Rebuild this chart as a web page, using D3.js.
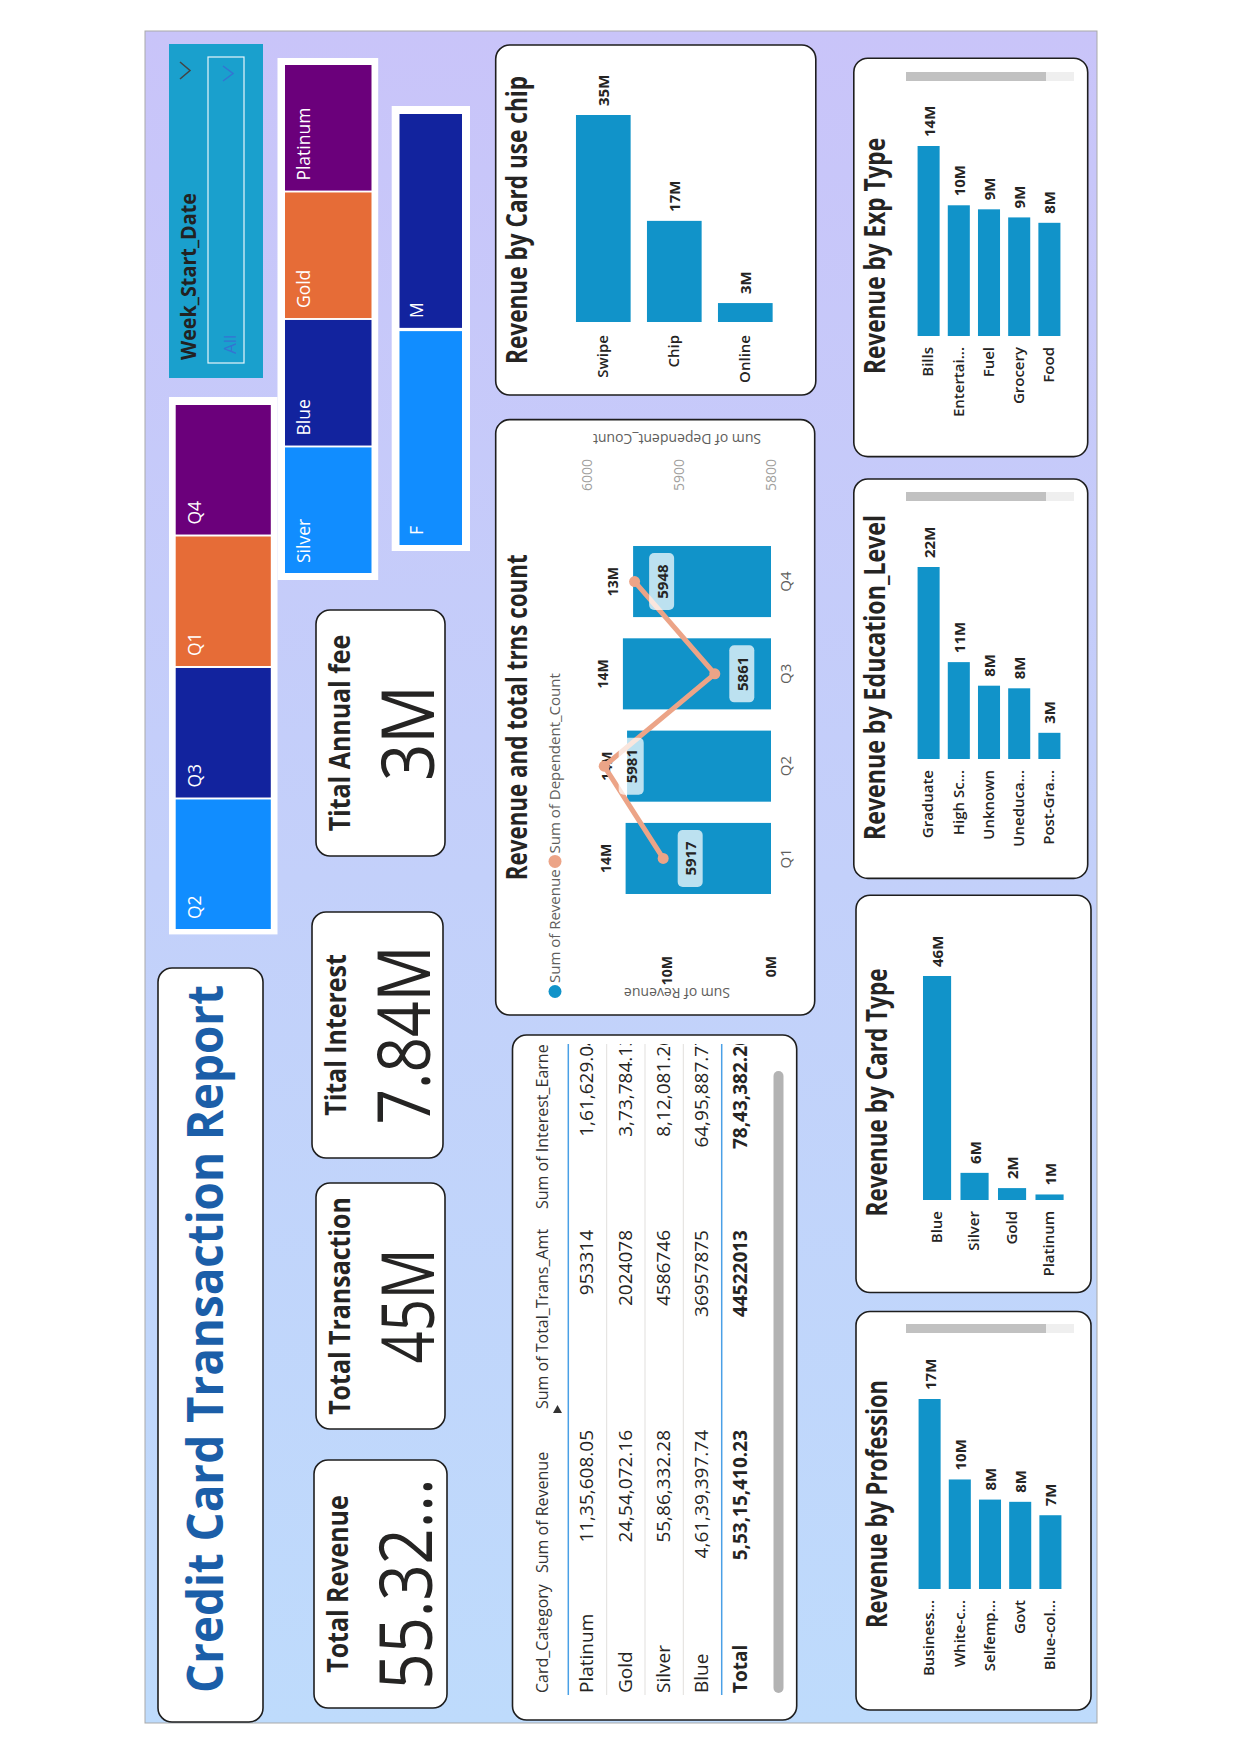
<!DOCTYPE html>
<html>
<head>
<meta charset="utf-8">
<script src="https://cdn.jsdelivr.net/npm/d3@7"></script>
<style>
  html, body { margin: 0; padding: 0; background: #ffffff; }
  svg { display: block; }
</style>
</head>
<body>
<script>
// ---------------- DATA ----------------
const quarters = ["Q1", "Q2", "Q3", "Q4"];
const quarterRevenue = [13.98, 13.84, 14.24, 13.26];          // millions
const quarterDependents = [5917, 5981, 5861, 5948];
const revAxisTicks = [0, 10];
const depAxisTicks = [5800, 5900, 6000];

const chipCategories = ["Swipe", "Chip", "Online"];
const chipRevenue = [35.0, 17.1, 3.2];

const expCategories = ["Bills", "Entertai...", "Fuel", "Grocery", "Food"];
const expRevenue = [14.1, 9.7, 9.4, 8.8, 8.4];

const eduCategories = ["Graduate", "High Sc...", "Unknown", "Uneduca...", "Post-Gra..."];
const eduRevenue = [22.0, 11.1, 8.4, 8.1, 3.0];

const cardTypeCategories = ["Blue", "Silver", "Gold", "Platinum"];
const cardTypeRevenue = [46.14, 5.59, 2.45, 1.14];

const profCategories = ["Business...", "White-c...", "Selfemp...", "Govt", "Blue-col..."];
const profRevenue = [17.0, 9.8, 8.0, 7.8, 6.6];

const tableHeaders = ["Card_Category", "Sum of Revenue", "Sum of Total_Trans_Amt", "Sum of Interest_Earned"];
const tableCategories = ["Platinum", "Gold", "Silver", "Blue"];
const tableRevenue = [1135608.05, 2454072.16, 5586332.28, 46139397.74];
const tableTransAmt = [953314, 2024078, 4586746, 36957875];
const tableInterest = [161629.04, 373784.13, 812081.26, 6495887.77];

const kpiTitles = ["Total Revenue", "Total Transaction", "Tital Interest", "Tital Annual fee"];
const kpiValues = ["55.32...", "45M", "7.84M", "3M"];

const quarterTiles = ["Q2", "Q3", "Q1", "Q4"];
const cardTiles = ["Silver", "Blue", "Gold", "Platinum"];
const genderTiles = ["F", "M"];
const tileColors = ["#118DFF", "#12239E", "#E66C37", "#6B007B"];

// ---------------- STYLE ----------------
const FONT = "'Open Sans', 'Noto Sans', sans-serif";
const BAR = "#1193c9";
const LINE = "#eca487";
const TXT = "#252423";
const GRAY = "#605e5c";

// ---------------- HELPERS ----------------
function inr(n, dec) {
  const s = n.toFixed(dec);
  let [ip, fp] = s.split(".");
  const last3 = ip.slice(-3);
  let rest = ip.slice(0, -3);
  if (rest) rest = rest.replace(/\B(?=(\d{2})+(?!\d))/g, ",") + ",";
  return rest + last3 + (fp ? "." + fp : "");
}

const svg = d3.select("body").append("svg").attr("width", 1241).attr("height", 1755);
svg.append("rect").attr("width", 1241).attr("height", 1755).attr("fill", "#ffffff");
const defs = svg.append("defs");
const grad = defs.append("linearGradient").attr("id", "bg").attr("x1", 0).attr("x2", 1).attr("y1", 0).attr("y2", 0);
grad.append("stop").attr("offset", 0).attr("stop-color", "#bedbfc");
grad.append("stop").attr("offset", 0.5).attr("stop-color", "#c3d0fa");
grad.append("stop").attr("offset", 1).attr("stop-color", "#c9c4f9");
defs.append("clipPath").attr("id", "tclip").append("rect")
  .attr("x", 4).attr("y", 368).attr("width", 675).attr("height", 283);

// landscape dashboard, rotated to portrait page
const g = svg.append("g").attr("transform", "translate(145,1723) rotate(-90)").style("font-family", FONT);
g.append("rect").attr("width", 1692).attr("height", 952).attr("fill", "url(#bg)")
  .attr("stroke", "#a9a9a9").attr("stroke-width", 1);

function card(u1, u2, v1, v2) {
  return g.append("rect").attr("x", u1).attr("y", v1).attr("width", u2 - u1).attr("height", v2 - v1)
    .attr("rx", 14).attr("fill", "#ffffff").attr("stroke", "#1e1e1e").attr("stroke-width", 1.6);
}
function text(p, x, y, s, size, o = {}) {
  const t = p.append("text").attr("x", x).attr("y", y).text(s)
    .attr("font-size", size).attr("fill", o.fill || TXT)
    .attr("font-weight", o.weight || 400).attr("text-anchor", o.anchor || "start")
    .style("font-family", FONT);
  if (o.baseline) t.attr("dominant-baseline", o.baseline);
  if (o.len) t.attr("textLength", o.len).attr("lengthAdjust", "spacingAndGlyphs");
  if (o.squeeze) {
    const n = t.node().getComputedTextLength();
    t.attr("textLength", n * o.squeeze).attr("lengthAdjust", "spacingAndGlyphs");
  }
  return t;
}
function chevron(u1, u2, vTop, vBot, color) {
  g.append("path").attr("d", `M${u1},${vTop} L${(u1 + u2) / 2},${vBot} L${u2},${vTop}`)
    .attr("fill", "none").attr("stroke", color).attr("stroke-width", 1.5);
}

// ---------------- TITLE ----------------
card(1, 755, 13, 118);
text(g, 30, 78, "Credit Card Transaction Report", 50, { weight: 700, fill: "#1b5ea8", len: 708 });

// ---------------- KPI CARDS ----------------
const kpiBoxes = [[15, 263, 169, 302], [294, 540, 171, 300], [565, 811, 167, 298], [867, 1113, 171, 300]];
const kpiValueLen = [211, 115, 179, 96];
kpiTitles.forEach((t, i) => {
  const [u1, u2, v1, v2] = kpiBoxes[i];
  card(u1, u2, v1, v2);
  const cu = (u1 + u2) / 2;
  text(g, cu, v1 + 34, t, 29, { weight: 700, anchor: "middle", squeeze: 0.86 });
  text(g, cu, v1 + 118, kpiValues[i], 73, { anchor: "middle", len: kpiValueLen[i] });
});

// ---------------- WEEK SLICER ----------------
g.append("rect").attr("x", 1345).attr("y", 24).attr("width", 334).attr("height", 94).attr("fill", "#1aa0cd");
text(g, 1363, 51, "Week_Start_Date", 22, { weight: 700, fill: "#222222", len: 167 });
g.append("rect").attr("x", 1360).attr("y", 63).attr("width", 306).attr("height", 36)
  .attr("fill", "none").attr("stroke", "#e8f6fb").attr("stroke-width", 1.2);
text(g, 1369, 91, "All", 17, { fill: "#3474d2" });
chevron(1642, 1657, 78, 88, "#3474d2");
chevron(1644, 1661, 35, 45, "#444444");

// ---------------- TILE SLICERS ----------------
function tiles(frame, inner, names, labelDv) {
  g.append("rect").attr("x", frame[0]).attr("y", frame[2]).attr("width", frame[1] - frame[0])
    .attr("height", frame[3] - frame[2]).attr("fill", "#ffffff");
  const b = d3.scaleBand().domain(names).range([inner[0], inner[1]]).paddingInner(0.015);
  const tg = g.append("g");
  tg.selectAll("rect").data(names).join("rect")
    .attr("x", d => b(d)).attr("y", inner[2]).attr("width", b.bandwidth()).attr("height", inner[3] - inner[2])
    .attr("fill", (d, i) => tileColors[i]);
  names.forEach(n => text(tg, b(n) + 10, inner[2] + labelDv, n, 17.5, { fill: "#ffffff" }));
}
tiles([788.6, 1326, 24, 132.5], [794, 1318, 30.7, 125.8], quarterTiles, 25);
tiles([1143, 1665, 132.5, 233.2], [1150, 1658, 140, 226.5], cardTiles, 25);
tiles([1172, 1617, 246.7, 325], [1178, 1609, 254.5, 317], genderTiles, 23.5);

// ---------------- HORIZONTAL BAR CHARTS ----------------
function hbar(o) {
  card(o.box[0], o.box[1], o.box[2], o.box[3]);
  text(g, o.tu, o.box[2] + 31, o.title, 28, { weight: 700, anchor: "middle", len: o.tlen });
  const x = d3.scaleLinear().domain([0, d3.max(o.vals)]).range([o.base, o.base + o.maxLen]);
  const y = d3.scaleBand().domain(o.cats).range([o.v0, o.v1]).paddingInner(o.pi).paddingOuter(o.pi / 2);
  const cg = g.append("g");
  cg.selectAll("rect").data(o.cats).join("rect")
    .attr("x", o.base).attr("y", d => y(d))
    .attr("width", (d, i) => x(o.vals[i]) - o.base).attr("height", y.bandwidth())
    .attr("fill", BAR);
  const ax = cg.append("g").attr("transform", `translate(${o.base},0)`)
    .call(d3.axisLeft(y).tickSize(0).tickPadding(o.base - o.labelEnd));
  ax.select(".domain").remove();
  ax.attr("font-family", FONT).attr("font-size", 15);
  ax.selectAll("text").attr("font-weight", 600).attr("fill", TXT).style("font-family", FONT);
  cg.selectAll(".dl").data(o.cats).join("text").attr("class", "dl")
    .attr("x", (d, i) => x(o.vals[i]) + 9).attr("y", d => y(d) + y.bandwidth() / 2)
    .attr("dominant-baseline", "central").attr("font-size", 15).attr("font-weight", 700)
    .attr("fill", TXT).style("font-family", FONT)
    .text((d, i) => Math.round(o.vals[i]) + "M");
  if (o.scroll) {
    g.append("rect").attr("x", o.scroll).attr("y", 761).attr("width", 9).attr("height", 168).attr("fill", "#efefef");
    g.append("rect").attr("x", o.scroll).attr("y", 761).attr("width", 9).attr("height", 140).attr("fill", "#c1c1c1");
  }
}
hbar({ box: [1328, 1678, 350.7, 670.8], title: "Revenue by Card use chip", tu: 1503, tlen: 288,
  cats: chipCategories, vals: chipRevenue, base: 1401, maxLen: 207, v0: 422.8, v1: 635.8, pi: 0.23, labelEnd: 1388 });
hbar({ box: [1266.4, 1664.8, 708.8, 942.7], title: "Revenue by Exp Type", tu: 1467, tlen: 236,
  cats: expCategories, vals: expRevenue, base: 1387, maxLen: 190, v0: 768.5, v1: 919.5, pi: 0.27, labelEnd: 1376, scroll: 1642 });
hbar({ box: [844.6, 1244, 708.8, 942.7], title: "Revenue by Education_Level", tu: 1045.5, tlen: 325,
  cats: eduCategories, vals: eduRevenue, base: 964, maxLen: 192, v0: 768.5, v1: 919.5, pi: 0.27, labelEnd: 953, scroll: 1222 });
hbar({ box: [430.5, 827.8, 711, 946], title: "Revenue by Card Type", tu: 630.5, tlen: 248,
  cats: cardTypeCategories, vals: cardTypeRevenue, base: 523, maxLen: 224, v0: 773.3, v1: 923.3, pi: 0.25, labelEnd: 512 });
hbar({ box: [13, 411.5, 711, 946], title: "Revenue by Profession", tu: 219, tlen: 248,
  cats: profCategories, vals: profRevenue, base: 134, maxLen: 190, v0: 769.5, v1: 920.5, pi: 0.27, labelEnd: 123, scroll: 390 });

// ---------------- COMBO CHART ----------------
(function combo() {
  card(708, 1303.4, 350.7, 669.7);
  text(g, 1005.7, 381.7, "Revenue and total trns count", 28, { weight: 700, anchor: "middle", len: 326 });
  // legend
  g.append("circle").attr("cx", 731.5).attr("cy", 410).attr("r", 6.5).attr("fill", BAR);
  const l1 = text(g, 740, 415, "Sum of Revenue", 15, { fill: GRAY });
  const e1 = 740 + l1.node().getComputedTextLength();
  g.append("circle").attr("cx", e1 + 8).attr("cy", 410).attr("r", 6.5).attr("fill", LINE);
  text(g, e1 + 16, 415, "Sum of Dependent_Count", 15, { fill: GRAY });

  const xQ = d3.scaleBand().domain(quarters).range([818.4, 1187.6]).paddingInner(0.23).paddingOuter(0.115);
  const yL = d3.scaleLinear().domain([0, 10]).range([626, 522]);
  const yR = d3.scaleLinear().domain([5800, 6000]).range([626, 441.7]);
  const bw = xQ.bandwidth();
  const cg = g.append("g");
  cg.selectAll("rect").data(quarters).join("rect")
    .attr("x", d => xQ(d)).attr("y", (d, i) => yL(quarterRevenue[i]))
    .attr("width", bw).attr("height", (d, i) => yL(0) - yL(quarterRevenue[i]))
    .attr("fill", BAR);

  const axL = cg.append("g").attr("transform", "translate(767,0)")
    .call(d3.axisLeft(yL).tickValues(revAxisTicks).tickFormat(d => d + "M").tickSize(0).tickPadding(0));
  axL.select(".domain").remove();
  axL.attr("font-family", FONT).attr("font-size", 14);
  axL.selectAll("text").attr("font-weight", 700).attr("fill", TXT).style("font-family", FONT);

  const axR = cg.append("g").attr("transform", "translate(1232,0)")
    .call(d3.axisRight(yR).tickValues(depAxisTicks).tickFormat(d3.format("d")).tickSize(0).tickPadding(0));
  axR.select(".domain").remove();
  axR.attr("font-family", FONT).attr("font-size", 14);
  axR.selectAll("text").attr("fill", "#a19f9d").style("font-family", FONT);

  const axB = cg.append("g").attr("transform", "translate(0,626)")
    .call(d3.axisBottom(xQ).tickSize(0).tickPadding(9.5));
  axB.select(".domain").remove();
  axB.attr("font-family", FONT).attr("font-size", 15);
  axB.selectAll("text").attr("fill", GRAY).style("font-family", FONT);

  text(cg, 0, 0, "Sum of Revenue", 14, { fill: GRAY, anchor: "middle", baseline: "central" })
    .attr("transform", "translate(729.6,532) rotate(-90)");
  text(cg, 0, 0, "Sum of Dependent_Count", 14, { fill: GRAY, anchor: "middle", baseline: "central" })
    .attr("transform", "translate(1283.6,532) rotate(-90)");

  // column data labels
  cg.selectAll(".bl").data(quarters).join("text").attr("class", "bl")
    .attr("x", d => xQ(d) + bw / 2).attr("y", (d, i) => yL(quarterRevenue[i]) - 15)
    .attr("text-anchor", "middle").attr("font-size", 14).attr("font-weight", 700).attr("fill", TXT)
    .style("font-family", FONT).text((d, i) => Math.round(quarterRevenue[i]) + "M");

  // line
  const line = d3.line().x((d, i) => xQ(quarters[i]) + bw / 2).y(d => yR(d));
  cg.append("path").datum(quarterDependents).attr("d", line).attr("fill", "none")
    .attr("stroke", LINE).attr("stroke-width", 5).attr("stroke-linejoin", "round").attr("stroke-linecap", "round");
  cg.selectAll(".pt").data(quarterDependents).join("circle").attr("class", "pt")
    .attr("cx", (d, i) => xQ(quarters[i]) + bw / 2).attr("cy", d => yR(d)).attr("r", 5.5).attr("fill", LINE);
  const lg = cg.selectAll(".ll").data(quarterDependents).join("g").attr("class", "ll")
    .attr("transform", (d, i) => `translate(${xQ(quarters[i]) + bw / 2},${yR(d) + 27})`);
  lg.append("rect").attr("x", -28.5).attr("y", -12.5).attr("width", 57).attr("height", 25).attr("rx", 5)
    .attr("fill", "#ffffff").attr("fill-opacity", 0.72);
  lg.append("text").attr("text-anchor", "middle").attr("dominant-baseline", "central")
    .attr("font-size", 15).attr("font-weight", 700).attr("fill", TXT).style("font-family", FONT)
    .text(d => d);
})();

// ---------------- TABLE ----------------
(function table() {
  card(3, 688, 367.5, 651.7);
  const tg = g.append("g").attr("clip-path", "url(#tclip)");
  const colX = [30, 150, 314, 514];
  const colEnd = [null, 293, 493, 688];
  tableHeaders.forEach((h, i) => text(tg, colX[i], 403, h, 16, { fill: "#333333" }));
  tg.append("path").attr("d", "M318,412.5 L310,408 L310,417 Z").attr("fill", "#333333");
  tg.append("line").attr("x1", 28).attr("x2", 679).attr("y1", 423.3).attr("y2", 423.3)
    .attr("stroke", "#4aa0e6").attr("stroke-width", 1.5);
  const rowY = d3.scalePoint().domain(tableCategories).range([448.3, 563.3]);
  const sepY = [461.7, 500, 538.3];
  sepY.forEach(v => tg.append("line").attr("x1", 28).attr("x2", 679).attr("y1", v).attr("y2", v)
    .attr("stroke", "#e1dfdd").attr("stroke-width", 1));
  tg.append("line").attr("x1", 28).attr("x2", 679).attr("y1", 576.7).attr("y2", 576.7)
    .attr("stroke", "#4aa0e6").attr("stroke-width", 1.5);
  tableCategories.forEach((c, i) => {
    const y = rowY(c);
    text(tg, colX[0], y, c, 19);
    text(tg, colEnd[1], y, inr(tableRevenue[i], 2), 19, { anchor: "end" });
    text(tg, colEnd[2], y, String(tableTransAmt[i]), 19, { anchor: "end" });
    text(tg, colEnd[3], y, inr(tableInterest[i], 2), 19, { anchor: "end" });
  });
  const ty = 601.6;
  text(tg, colX[0], ty, "Total", 19, { weight: 700 });
  text(tg, colEnd[1], ty, inr(d3.sum(tableRevenue), 2), 19, { anchor: "end", weight: 700 });
  text(tg, colEnd[2], ty, String(d3.sum(tableTransAmt)), 19, { anchor: "end", weight: 700 });
  text(tg, colEnd[3], ty, inr(d3.sum(tableInterest), 2), 19, { anchor: "end", weight: 700 });
  g.append("rect").attr("x", 30).attr("y", 628.5).attr("width", 622).attr("height", 10).attr("rx", 5)
    .attr("fill", "#b3b3b3");
})();
</script>
</body>
</html>
